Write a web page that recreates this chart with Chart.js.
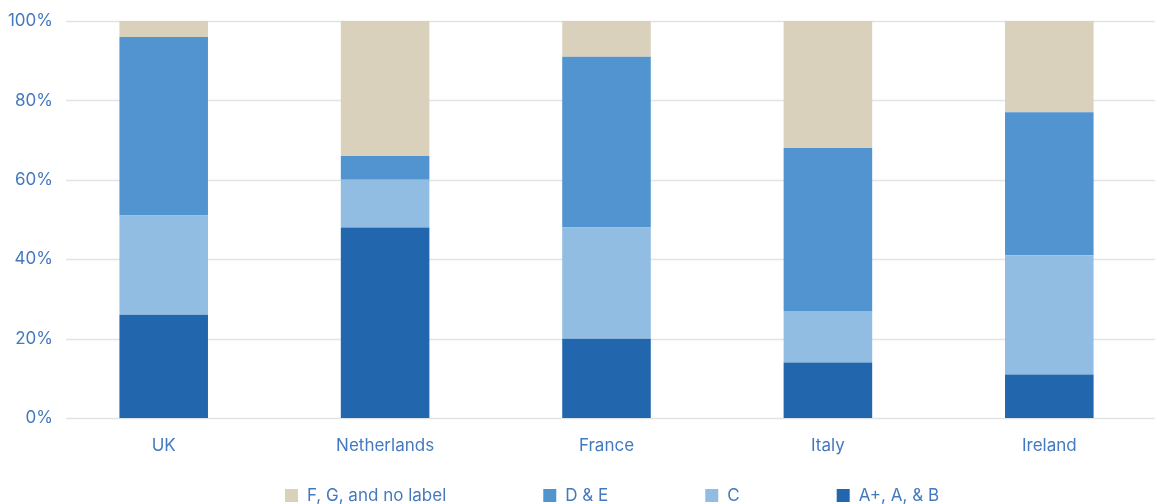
<!DOCTYPE html>
<html>
<head>
<meta charset="utf-8">
<script src="https://cdn.jsdelivr.net/npm/chart.js@4"></script>
<style>
html,body{margin:0;padding:0;background:#fff;overflow:hidden;}
#wrap{width:1160px;height:504px;position:relative;}
</style>
</head>
<body>
<div id="wrap"><canvas id="c"></canvas></div>
<script>
const categories = ['UK', 'Netherlands', 'France', 'Italy', 'Ireland'];
const seriesNames = ['A+, A, & B', 'C', 'D & E', 'F, G, and no label'];
const valuesAB = [26, 48, 20, 14, 11];
const valuesC = [25, 12, 28, 13, 30];
const valuesDE = [45, 6, 43, 41, 36];
const valuesFG = [4, 34, 9, 32, 23];
const yTicks = [0, 20, 40, 60, 80, 100];

const colors = ['#2266ad', '#91bde2', '#5294d0', '#d9d1bc'];
const textColor = '#4479bf';
const fontFamily = 'Inter, "Noto Sans", sans-serif';
const fontSize = 17;

const gridPlugin = {
  id: 'customGrid',
  beforeDatasetsDraw(chart) {
    const y = chart.scales.y;
    const ctx = chart.ctx;
    ctx.save();
    ctx.strokeStyle = '#dfe5e7';
    ctx.lineWidth = 1.5;
    yTicks.forEach(v => {
      const py = Math.round(y.getPixelForValue(v)) + 0.5;
      ctx.beginPath();
      ctx.moveTo(66, py);
      ctx.lineTo(chart.chartArea.right, py);
      ctx.stroke();
    });
    ctx.restore();
  }
};

const legendPlugin = {
  id: 'customLegend',
  afterDraw(chart) {
    const ctx = chart.ctx;
    const ds = chart.data.datasets.slice().reverse();
    const box = 13, gapText = 9, gapItem = 97;
    ctx.save();
    ctx.font = fontSize + 'px ' + fontFamily;
    const widths = ds.map(d => box + gapText + ctx.measureText(d.label).width);
    const total = widths.reduce((a, b) => a + b, 0) + gapItem * (ds.length - 1);
    let x = 612 - total / 2;
    const cy = 495.5;
    ctx.textBaseline = 'middle';
    ctx.textAlign = 'left';
    ds.forEach((d, i) => {
      ctx.fillStyle = d.backgroundColor;
      ctx.fillRect(x, cy - box / 2, box, box);
      ctx.fillStyle = textColor;
      ctx.fillText(d.label, x + box + gapText, cy);
      x += widths[i] + gapItem;
    });
    ctx.restore();
  }
};

const allValues = [valuesAB, valuesC, valuesDE, valuesFG];
new Chart(document.getElementById('c'), {
  type: 'bar',
  data: {
    labels: categories,
    datasets: allValues.map((vals, i) => ({
      label: seriesNames[i],
      data: vals,
      backgroundColor: colors[i],
      borderWidth: 0,
      barPercentage: 0.4,
      categoryPercentage: 1.0
    }))
  },
  options: {
    responsive: true,
    maintainAspectRatio: false,
    animation: false,
    layout: { padding: { top: 21, right: 0, bottom: 29.5, left: 0 } },
    plugins: {
      tooltip: { enabled: false },
      legend: { display: false }
    },
    scales: {
      x: {
        stacked: true,
        grid: { display: false, drawTicks: false },
        border: { display: false },
        ticks: {
          color: textColor,
          padding: 18,
          font: { family: fontFamily, size: fontSize }
        }
      },
      y: {
        stacked: true,
        min: 0,
        max: 100,
        afterFit(scale) { scale.width = 53; },
        afterBuildTicks(scale) { scale.ticks = yTicks.map(v => ({ value: v })); },
        grid: { display: false, drawTicks: false },
        border: { display: false },
        ticks: {
          color: textColor,
          padding: 0,
          font: { family: fontFamily, size: fontSize },
          callback: v => v + '%'
        }
      }
    }
  },
  plugins: [gridPlugin, legendPlugin]
});
</script>
</body>
</html>
